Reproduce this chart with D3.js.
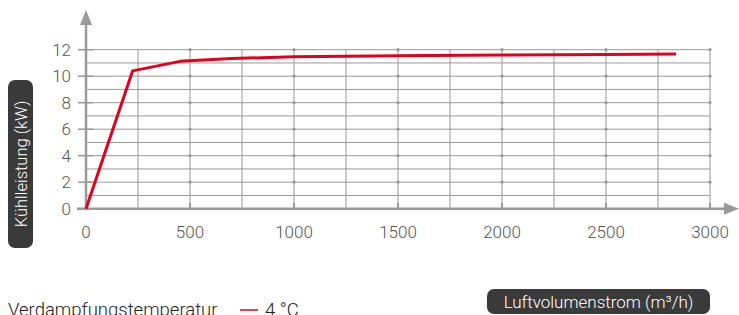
<!DOCTYPE html>
<html>
<head>
  <script src="https://d3js.org/d3.v7.min.js"></script>
  <style>
    body { margin: 0; background: #fff; }
    svg { font-family: Roboto, "Liberation Sans", sans-serif; }
    .tick-label { fill: #555; font-size: 17px; font-weight: 300; }
  </style>
</head>
<body>
<script>
  var width = 739, height = 315;

  // Kühlleistung bei 4 °C Verdampfungstemperatur
  var airflow = [0, 224, 452, 700, 1000, 1500, 2000, 2500, 2837];
  var capacity = [0, 10.4, 11.12, 11.33, 11.47, 11.55, 11.6, 11.64, 11.67];
  var xTicks = [0, 500, 1000, 1500, 2000, 2500, 3000];
  var yTicks = [0, 2, 4, 6, 8, 10, 12];

  var x = d3.scaleLinear().domain([0, 3000]).range([86, 710]);
  var y = d3.scaleLinear().domain([0, 12]).range([208.7, 49.7]);

  var svg = d3.select("body").append("svg").attr("width", width).attr("height", height);

  // grid
  svg.append("g").selectAll("line")
    .data(d3.range(250, 3001, 250))
    .enter().append("line")
    .attr("x1", d => x(d)).attr("x2", d => x(d))
    .attr("y1", y(12)).attr("y2", y(0))
    .attr("stroke", "#999").attr("stroke-width", 1);
  svg.append("g").selectAll("line")
    .data(d3.range(1, 13))
    .enter().append("line")
    .attr("x1", x(0)).attr("x2", x(3000))
    .attr("y1", d => y(d)).attr("y2", d => y(d))
    .attr("stroke", "#999").attr("stroke-width", 1);

  // dots at major intersections
  var pts = [];
  xTicks.slice(1).forEach(a => yTicks.slice(1).forEach(b => pts.push([a, b])));
  svg.append("g").selectAll("circle")
    .data(pts).enter().append("circle")
    .attr("cx", d => x(d[0])).attr("cy", d => y(d[1])).attr("r", 1.6)
    .attr("fill", "#999");

  // y tick marks
  svg.append("g").selectAll("line")
    .data(yTicks).enter().append("line")
    .attr("x1", x(0) - 8).attr("x2", x(0) + 7)
    .attr("y1", d => y(d)).attr("y2", d => y(d))
    .attr("stroke", "#999").attr("stroke-width", 1.5);
  // x tick marks
  svg.append("g").selectAll("line")
    .data(xTicks.slice(1)).enter().append("line")
    .attr("x1", d => x(d)).attr("x2", d => x(d))
    .attr("y1", y(0) - 6).attr("y2", y(0))
    .attr("stroke", "#999").attr("stroke-width", 2);

  // axes
  svg.append("line").attr("x1", x(0)).attr("x2", x(0)).attr("y1", y(0)).attr("y2", 22)
    .attr("stroke", "#999").attr("stroke-width", 2.5);
  svg.append("path").attr("d", "M" + x(0) + ",10L" + (x(0) - 6) + ",25L" + (x(0) + 6) + ",25Z").attr("fill", "#999");
  svg.append("line").attr("x1", 77).attr("x2", 727).attr("y1", y(0)).attr("y2", y(0))
    .attr("stroke", "#999").attr("stroke-width", 2.5);
  svg.append("path").attr("d", "M739," + y(0) + "L724," + (y(0) - 6) + "L724," + (y(0) + 6) + "Z").attr("fill", "#999");

  // tick labels
  svg.append("g").selectAll("text")
    .data(yTicks).enter().append("text")
    .attr("class", "tick-label")
    .attr("x", 71).attr("y", d => y(d) + 6)
    .attr("text-anchor", "end")
    .text(d => d);
  svg.append("g").selectAll("text")
    .data(xTicks).enter().append("text")
    .attr("class", "tick-label")
    .attr("x", d => x(d)).attr("y", 238)
    .attr("text-anchor", "middle")
    .text(d => d);

  // line
  var line = d3.line().x((d, i) => x(airflow[i])).y(d => y(d));
  svg.append("path").datum(capacity)
    .attr("d", line)
    .attr("fill", "none").attr("stroke", "#e3001b").attr("stroke-width", 3)
    .attr("stroke-linejoin", "round");

  // axis title boxes
  svg.append("rect").attr("x", 8).attr("y", 80).attr("width", 25).attr("height", 168)
    .attr("rx", 7).attr("fill", "#3a3a3a");
  svg.append("text").attr("transform", "translate(26.5,164) rotate(-90)")
    .attr("text-anchor", "middle").attr("fill", "#fff").attr("font-size", 16.5)
    .attr("font-weight", 300).text("Kühlleistung (kW)");
  svg.append("rect").attr("x", 487).attr("y", 289).attr("width", 223).attr("height", 25)
    .attr("rx", 7).attr("fill", "#3a3a3a");
  svg.append("text").attr("x", 598.5).attr("y", 307.5)
    .attr("text-anchor", "middle").attr("fill", "#fff").attr("font-size", 17)
    .attr("font-weight", 300).text("Luftvolumenstrom (m³/h)");

  // legend
  svg.append("text").attr("x", 8).attr("y", 316).attr("fill", "#222").attr("font-size", 18.5)
    .attr("font-weight", 300).text("Verdampfungstemperatur");
  svg.append("line").attr("x1", 240).attr("x2", 258).attr("y1", 310).attr("y2", 310)
    .attr("stroke", "#e3001b").attr("stroke-width", 1.5);
  svg.append("text").attr("x", 265).attr("y", 316).attr("fill", "#222").attr("font-size", 18.5)
    .attr("font-weight", 300).text("4 °C");
</script>
</body>
</html>
